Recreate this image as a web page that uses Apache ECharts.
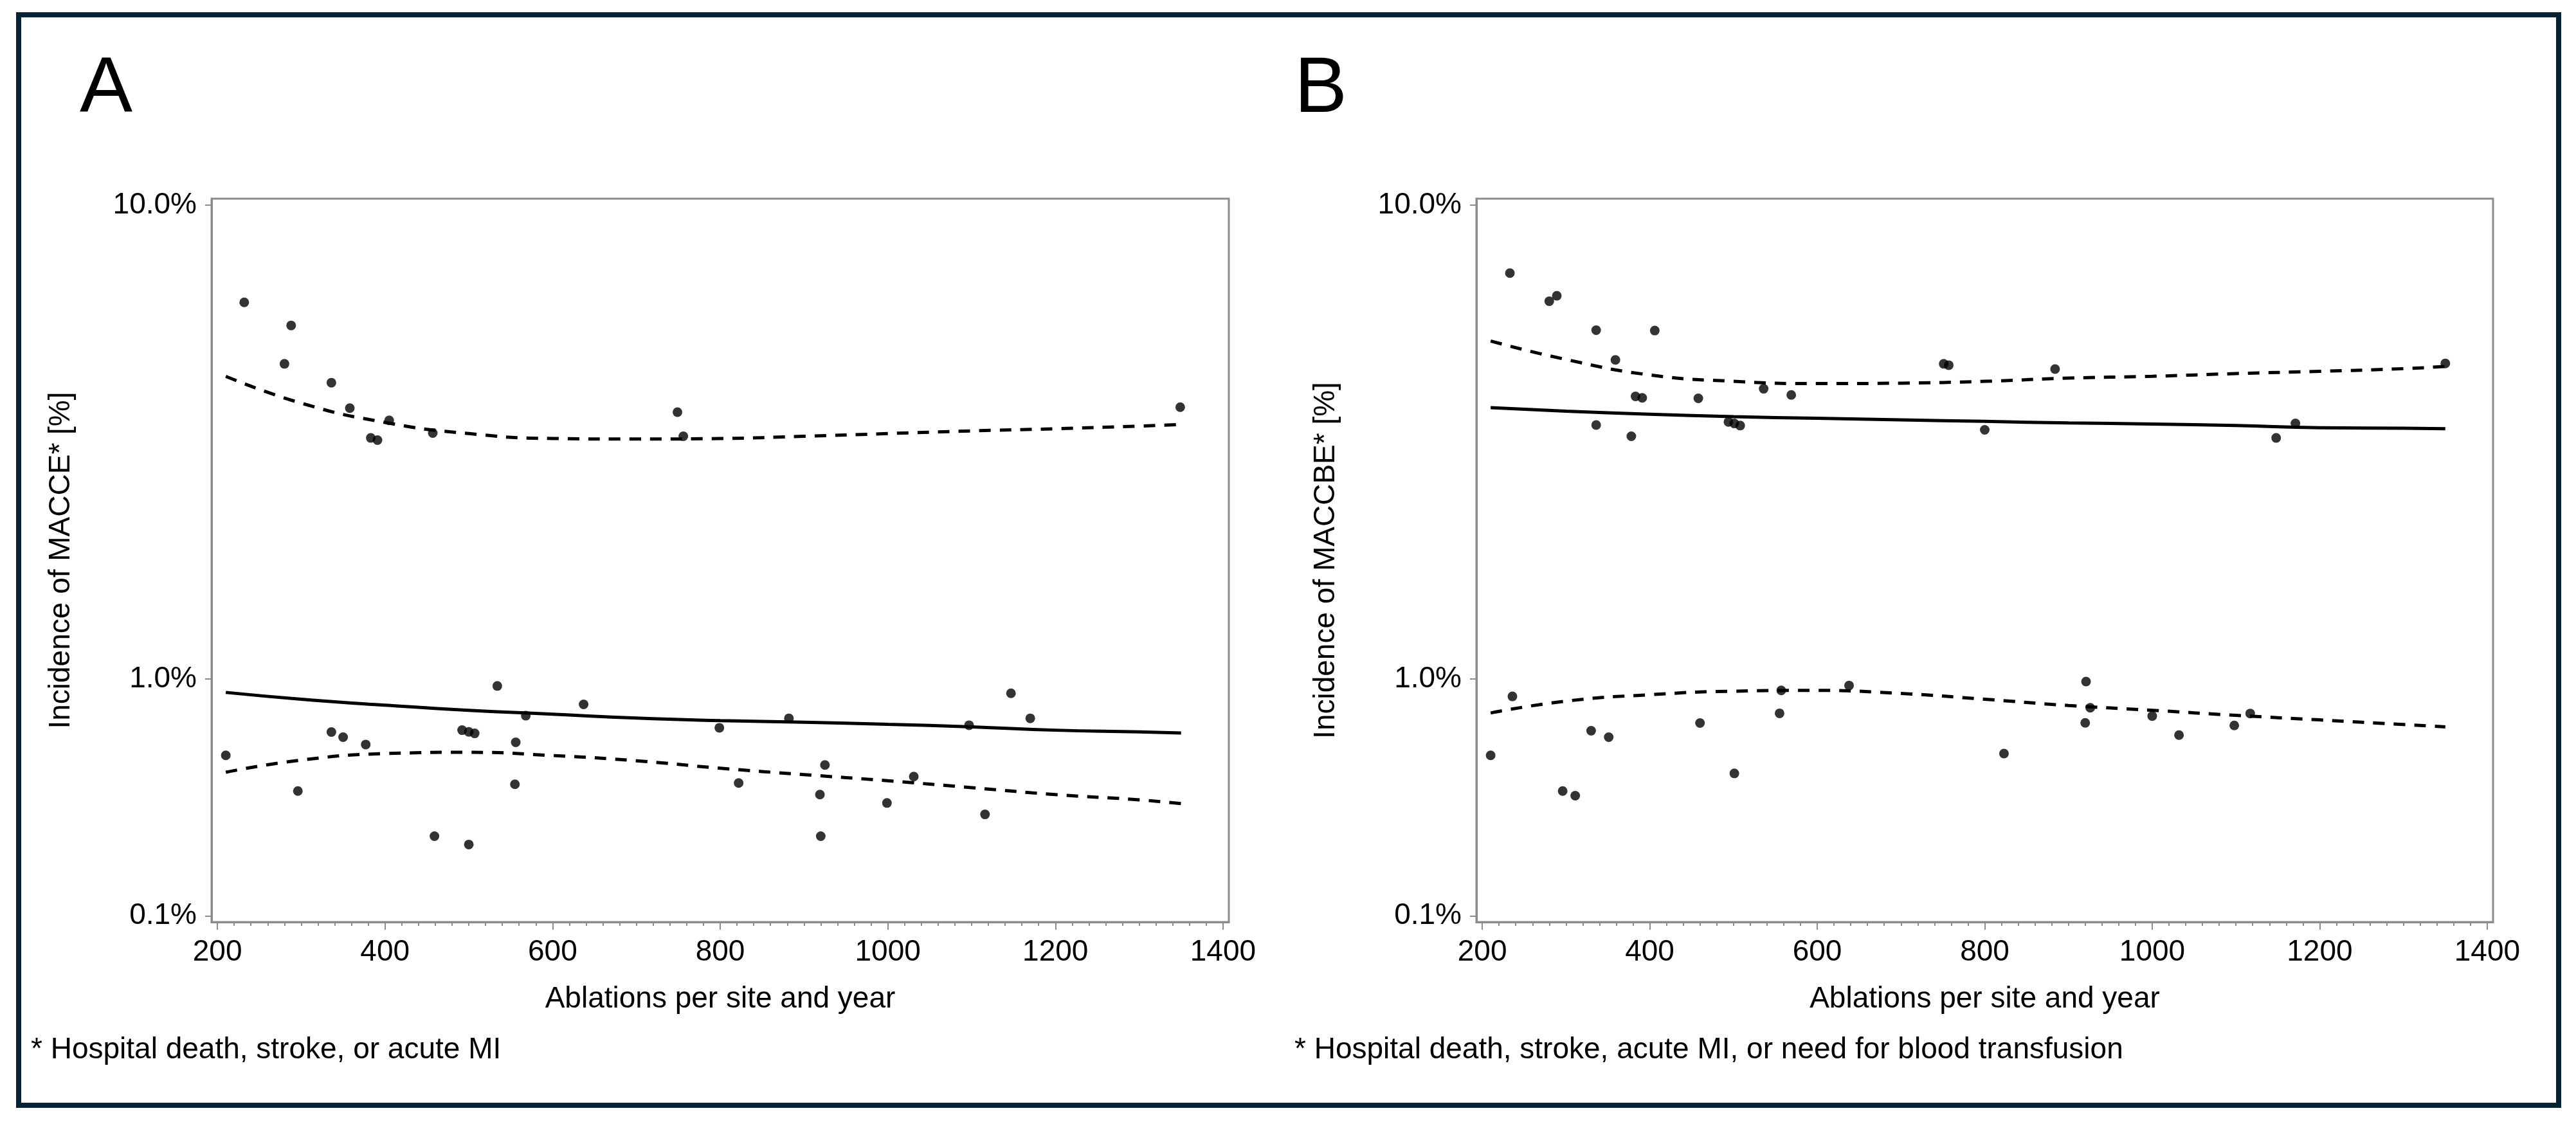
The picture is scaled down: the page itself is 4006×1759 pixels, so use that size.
<!DOCTYPE html>
<html><head><meta charset="utf-8">
<script src="https://cdn.jsdelivr.net/npm/echarts@6/dist/echarts.min.js"></script>
<style>html,body{margin:0;padding:0;background:#fff}#c{width:4006px;height:1759px}</style>
</head><body><div id="c"></div>
<script>
// ---- data (percent values) ----
const xTickLabels = [200, 400, 600, 800, 1000, 1200, 1400];
const xMinorTicks = [220,240,260,280,300,320,340,360,380,420,440,460,480,500,520,540,560,580,620,640,660,680,700,720,740,760,780,820,840,860,880,900,920,940,960,980,1020,1040,1060,1080,1100,1120,1140,1160,1180,1220,1240,1260,1280,1300,1320,1340,1360,1380];
const yTickValues = [0.1, 1.0, 10.0];

const fitX = [210, 300, 400, 500, 600, 700, 800, 900, 1000, 1100, 1200, 1300, 1350];

// Panel A (MACCE)
const aPointsHigh = [[232,6.98],[288,6.37],[280,5.44],[336,5.02],[358,4.49],[405,4.25],[383,3.92],[391,3.88],[457,4.01],[749,4.41],[756,3.95],[1349,4.51]];
const aPointsLow = [[210,0.558],[296,0.408],[336,0.674],[350,0.647],[377,0.610],[459,0.262],[500,0.240],[492,0.684],[500,0.675],[507,0.667],[534,0.952],[556,0.621],[555,0.434],[568,0.765],[637,0.833],[799,0.697],[822,0.439],[882,0.750],[925,0.514],[919,0.395],[920,0.262],[999,0.365],[1031,0.465],[1097,0.711],[1116,0.327],[1147,0.903],[1170,0.750]];
const aFit   = [0.909,0.865,0.828,0.797,0.774,0.751,0.737,0.728,0.716,0.702,0.684,0.675,0.669];
const aUpper = [5.16,4.59,4.21,4.00,3.91,3.90,3.91,3.95,4.00,4.05,4.09,4.14,4.17];
const aLower = [0.483,0.536,0.566,0.572,0.557,0.533,0.500,0.473,0.448,0.421,0.395,0.376,0.363];

// Panel B (MACCBE)
const bPointsHigh = [[233,7.81],[280,7.01],[289,7.16],[336,6.25],[406,6.24],[359,5.53],[383,4.73],[391,4.70],[458,4.69],[536,4.89],[569,4.76],[336,4.16],[378,3.95],[494,4.22],[501,4.19],[508,4.15],[751,5.44],[757,5.41],[800,4.07],[884,5.32],[1148,3.92],[1171,4.19],[1350,5.45]];
const bPointsLow = [[210,0.558],[236,0.883],[296,0.408],[311,0.391],[330,0.681],[351,0.647],[460,0.723],[501,0.478],[555,0.779],[557,0.922],[638,0.955],[823,0.566],[921,0.982],[926,0.812],[920,0.724],[1000,0.763],[1032,0.658],[1098,0.710],[1117,0.778]];
const bFit   = [4.50,4.43,4.37,4.32,4.29,4.26,4.23,4.20,4.18,4.15,4.11,4.10,4.09];
const bUpper = [5.98,5.54,5.19,5.05,5.00,5.01,5.05,5.12,5.16,5.22,5.27,5.33,5.38];
const bLower = [0.781,0.853,0.894,0.917,0.922,0.902,0.865,0.826,0.797,0.767,0.741,0.715,0.702];

// ---- y scale: power transform so that 0.1%, 1%, 10% are spaced like the original axis ----
const K = Math.log10(2);
const tf = p => Math.pow(p, K);
const inv = t => Math.pow(t, 1 / K);
const pts = arr => arr.map(d => [d[0], tf(d[1])]);
const curve = ys => fitX.map((x, i) => [x, tf(ys[i])]);

const FONT = 'Liberation Sans';
const AX = '#8c8c8c';
const chart = echarts.init(document.getElementById('c'), null, {renderer: 'canvas'});

function xAxes(g) {
  return [{
    type: 'value', gridIndex: g, position: 'bottom', min: 193, max: 1407,
    name: 'Ablations per site and year', nameLocation: 'middle', nameGap: 97,
    nameTextStyle: {fontFamily: FONT, fontSize: 46, color: '#000'},
    axisLine: {show: true, lineStyle: {color: AX, width: 3}},
    axisTick: {show: true, length: 12, customValues: xTickLabels, lineStyle: {color: AX, width: 2}},
    axisLabel: {show: true, customValues: xTickLabels, margin: 24, fontFamily: FONT, fontSize: 46, color: '#000',
      formatter: v => String(Math.round(v))},
    splitLine: {show: false}
  }, {
    type: 'value', gridIndex: g, position: 'bottom', offset: 0, min: 193, max: 1407,
    axisLine: {show: false},
    axisTick: {show: true, length: 6, customValues: xMinorTicks, lineStyle: {color: AX, width: 2}},
    axisLabel: {show: false},
    splitLine: {show: false}
  }];
}
function yAxis(g, name) {
  const tv = yTickValues.map(tf);
  return {
    type: 'value', gridIndex: g, min: 0.4871, max: 2.0136,
    name: name, nameLocation: 'middle', nameGap: 211,
    nameTextStyle: {fontFamily: FONT, fontSize: 46, color: '#000'},
    axisLine: {show: true, lineStyle: {color: AX, width: 3}},
    axisTick: {show: true, length: 10, customValues: tv, lineStyle: {color: AX, width: 2}},
    axisLabel: {show: true, customValues: tv, margin: 23, fontFamily: FONT, fontSize: 46, color: '#000',
      formatter: v => inv(v).toFixed(1) + '%'},
    splitLine: {show: false}
  };
}
function seriesFor(xi, yi, high, low, fit, up, lo) {
  const dashed = {color: '#000', width: 5, type: [18, 14]};
  return [
    {type: 'line', xAxisIndex: xi, yAxisIndex: yi, data: curve(up), smooth: true, symbol: 'none', lineStyle: dashed, z: 3},
    {type: 'line', xAxisIndex: xi, yAxisIndex: yi, data: curve(lo), smooth: true, symbol: 'none', lineStyle: dashed, z: 3},
    {type: 'line', xAxisIndex: xi, yAxisIndex: yi, data: curve(fit), smooth: true, symbol: 'none', lineStyle: {color: '#000', width: 5}, z: 3},
    {type: 'scatter', xAxisIndex: xi, yAxisIndex: yi, data: pts(high).concat(pts(low)), symbol: 'circle', symbolSize: 15,
      itemStyle: {color: '#000'}, z: 4}
  ];
}

const option = {
  backgroundColor: '#fff',
  animation: false,
  grid: [
    {left: 329, top: 309, width: 1582, height: 1125, show: true, borderColor: AX, borderWidth: 3, outerBoundsMode: 'none'},
    {left: 2296, top: 309, width: 1581, height: 1125, show: true, borderColor: AX, borderWidth: 3, outerBoundsMode: 'none'}
  ],
  xAxis: xAxes(0).concat(xAxes(1)),
  yAxis: [yAxis(0, 'Incidence of MACCE* [%]'), yAxis(1, 'Incidence of MACCBE* [%]')],
  series: seriesFor(0, 0, aPointsHigh, aPointsLow, aFit, aUpper, aLower)
    .concat(seriesFor(2, 1, bPointsHigh, bPointsLow, bFit, bUpper, bLower)),
  graphic: [
    {type: 'rect', shape: {x: 29, y: 23, width: 3950, height: 1696}, style: {fill: 'none', stroke: '#062333', lineWidth: 8}, z: 10},
    {type: 'text', x: 124, y: 140, style: {text: 'A', font: '123px "Liberation Sans"', fill: '#000', textVerticalAlign: 'middle'}},
    {type: 'text', x: 2013, y: 140, style: {text: 'B', font: '123px "Liberation Sans"', fill: '#000', textVerticalAlign: 'middle'}},
    {type: 'text', x: 48, y: 1633, style: {text: '* Hospital death, stroke, or acute MI', font: '46px "Liberation Sans"', fill: '#000', textVerticalAlign: 'middle'}},
    {type: 'text', x: 2013, y: 1633, style: {text: '* Hospital death, stroke, acute MI, or need for blood transfusion', font: '46px "Liberation Sans"', fill: '#000', textVerticalAlign: 'middle'}}
  ]
};
chart.setOption(option);
</script></body></html>
